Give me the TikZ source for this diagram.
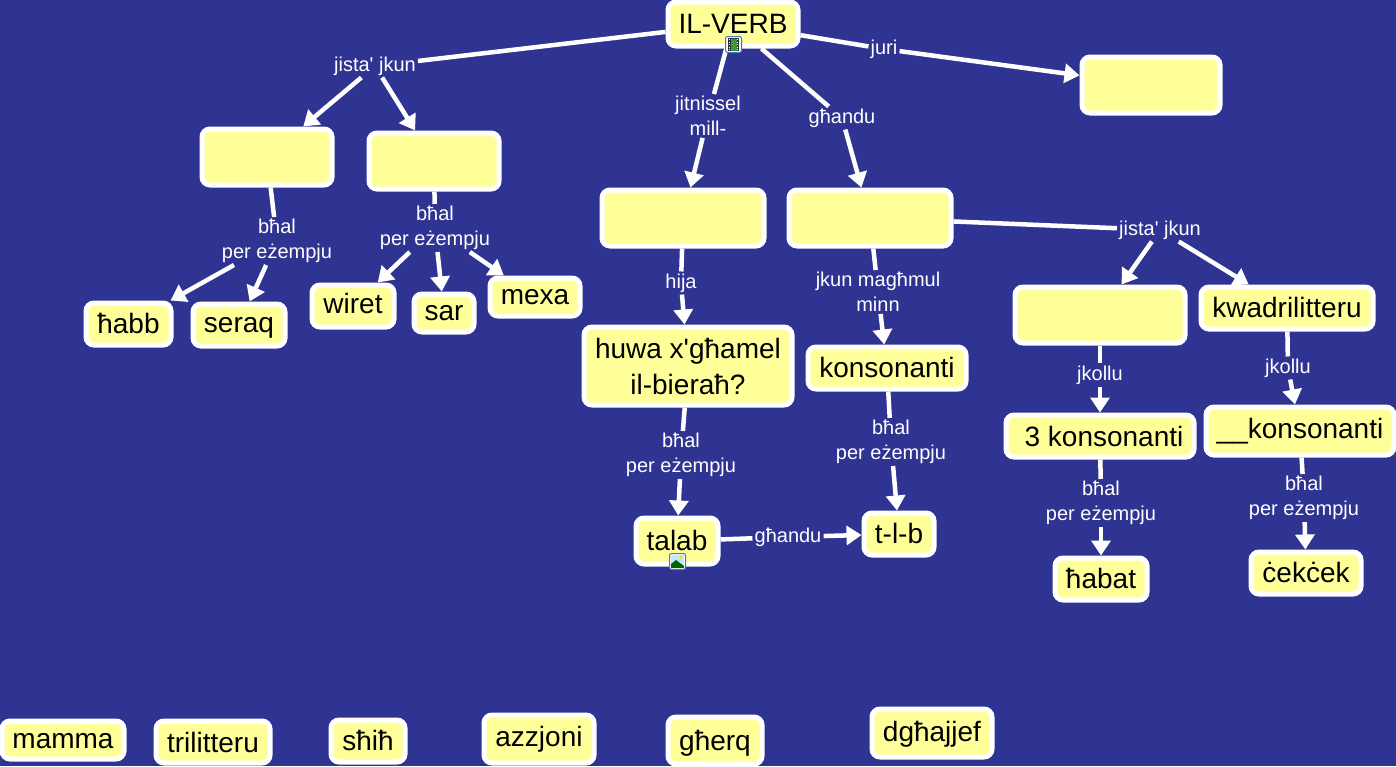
\documentclass[tikz,border=0pt]{standalone}
\usepackage{fontspec}
\setmainfont{Liberation Sans}[Ligatures=TeXOff]
\definecolor{MapBlue}{RGB}{47,51,146}
\definecolor{BoxYellow}{RGB}{255,255,153}
\definecolor{IconEdge}{RGB}{60,125,190}
\usetikzlibrary{arrows.meta}

\tikzset{
  mapbox/.style={draw=white,fill=BoxYellow,line width=5pt,rounded corners=8pt,inner sep=0pt,
    align=center,text=black,text height=22pt,text depth=6pt,font=\fontsize{28}{36}\selectfont},
  linktext/.style={text=white,inner sep=2pt,align=center,font=\fontsize{20}{25}\selectfont},
  link/.style={draw=white,line width=4.5pt},
  linkto/.style={link,-{Triangle[length=15pt,width=19pt]}},
  mapicon/.style={draw=IconEdge,fill=white,line width=1pt,rounded corners=2pt,inner sep=0pt,
    minimum width=16pt,minimum height=16pt}
}

\begin{document}
\begin{tikzpicture}[x=1pt,y=-1pt]

  \useasboundingbox (0,0) rectangle (1396,766);
  \fill[MapBlue] (0,0) rectangle (1396,766);

  % boxes
  \node[mapbox,text height=24pt,minimum width=130pt,minimum height=44pt] (verb) at (733,24) {IL-VERB};
  \node[mapbox,minimum width=138pt,minimum height=56pt] (tense) at (1151,85) {};
  \node[mapbox,minimum width=130pt,minimum height=56pt] (boxa) at (267,157) {};
  \node[mapbox,minimum width=130pt,minimum height=56pt] (boxb) at (434,161) {};
  \node[mapbox,minimum width=162pt,minimum height=56pt] (boxc) at (683,218) {};
  \node[mapbox,minimum width=162pt,minimum height=56pt] (boxd) at (870,218) {};
  \node[mapbox,text height=24pt,minimum width=85pt,minimum height=42pt] (habb) at (128.5,324) {ħabb};
  \node[mapbox,text height=20pt,minimum width=92pt,minimum height=42pt] (seraq) at (239,325) {seraq};
  \node[mapbox,text height=20pt,minimum width=82pt,minimum height=42pt] (wiret) at (353,306) {wiret};
  \node[mapbox,text height=20pt,minimum width=60pt,minimum height=38pt] (sar) at (444,313) {sar};
  \node[mapbox,text height=20pt,minimum width=90pt,minimum height=38pt] (mexa) at (535,297) {mexa};
  \node[mapbox,text height=62pt,minimum width=208pt,minimum height=78pt] (huwa) at (688,366) {huwa x'għamel\\il-bieraħ?};
  \node[mapbox,text height=24pt,minimum width=158pt,minimum height=42pt] (kons) at (887,368) {konsonanti};
  \node[mapbox,minimum width=170pt,minimum height=56pt] (boxe) at (1100,315) {};
  \node[mapbox,text height=24pt,minimum width=172pt,minimum height=42pt] (kwad) at (1287,308) {kwadrilitteru};
  \node[mapbox,text height=26pt,minimum width=188pt,minimum height=42pt] (three) at (1100,436) {\hspace{8pt}3 konsonanti};
  \node[mapbox,text height=20pt,minimum width=188pt,minimum height=48pt] (blank) at (1300,431) {\_\_konsonanti};
  \node[mapbox,text height=24pt,minimum width=82pt,minimum height=46pt] (talab) at (677,541) {talab};
  \node[mapbox,text height=24pt,minimum width=70pt,minimum height=42pt] (tlb) at (899,534) {t-l-b};
  \node[mapbox,text height=24pt,minimum width=92pt,minimum height=42pt] (habat) at (1101,579) {ħabat};
  \node[mapbox,text height=24pt,minimum width=110pt,minimum height=42pt] (cekcek) at (1306,573) {ċekċek};

  % loose words at the bottom
  \node[mapbox,minimum width=122pt,minimum height=38pt] (mamma) at (63,740) {mamma};
  \node[mapbox,text height=26pt,minimum width=114pt,minimum height=42pt] (tri) at (213,742) {trilitteru};
  \node[mapbox,text height=24pt,minimum width=74pt,minimum height=42pt] (shih) at (368,741) {sħiħ};
  \node[mapbox,text height=20pt,minimum width=110pt,minimum height=48pt] (azz) at (539,739) {azzjoni};
  \node[mapbox,text height=26pt,minimum width=94pt,minimum height=47pt] (gherq) at (715,740.5) {għerq};
  \node[mapbox,minimum width=120pt,minimum height=48pt] (dgh) at (932,733) {dgħajjef};

  % linking words
  \node[linktext] (jistaa) at (375,66) {jista' jkun};
  \node[linktext] (jitn) at (708,116) {jitnissel\\mill-};
  \node[linktext] (ghana) at (842,118) {għandu};
  \node[linktext] (juri) at (884,49) {juri};
  \node[linktext] (bhala) at (277,241) {bħal\\per eżempju};
  \node[linktext] (bhalb) at (435,228) {bħal\\per eżempju};
  \node[linktext] (hija) at (681,283) {hija};
  \node[linktext] (jkun) at (878,292) {jkun magħmul\\minn};
  \node[linktext] (jistab) at (1160,230) {jista' jkun};
  \node[linktext] (bhalc) at (681,455) {bħal\\per eżempju};
  \node[linktext] (bhald) at (891,442) {bħal\\per eżempju};
  \node[linktext] (ghanb) at (788,537) {għandu};
  \node[linktext] (jkola) at (1100,375) {jkollu};
  \node[linktext] (jkolb) at (1288,368) {jkollu};
  \node[linktext] (bhale) at (1101,503) {bħal\\per eżempju};
  \node[linktext] (bhalf) at (1304,498) {bħal\\per eżempju};

  % connectors
  \draw[link] (verb) -- (jistaa);
  \draw[linkto] (jistaa) -- (boxa);
  \draw[linkto] (jistaa) -- (boxb);
  \draw[link] (verb) -- (juri);
  \draw[linkto] (juri) -- (tense);
  \draw[link] (verb) -- (jitn);
  \draw[linkto] (jitn) -- (boxc);
  \draw[link] (verb) -- (ghana);
  \draw[linkto] (ghana) -- (boxd);
  \draw[link] (boxa) -- (bhala);
  \draw[linkto] (bhala) -- (habb);
  \draw[linkto] (bhala) -- (seraq);
  \draw[link] (boxb) -- (bhalb);
  \draw[linkto] (bhalb) -- (wiret);
  \draw[linkto] (bhalb) -- (sar);
  \draw[linkto] (bhalb) -- (mexa);
  \draw[link] (boxc) -- (hija);
  \draw[linkto] (hija) -- (huwa);
  \draw[link] (huwa) -- (bhalc);
  \draw[linkto] (bhalc) -- (talab);
  \draw[link] (talab) -- (ghanb);
  \draw[linkto] (ghanb) -- (tlb);
  \draw[link] (boxd) -- (jkun);
  \draw[linkto] (jkun) -- (kons);
  \draw[link] (kons) -- (bhald);
  \draw[linkto] (bhald) -- (tlb);
  \draw[link] (boxd) -- (jistab);
  \draw[linkto] (jistab) -- (boxe);
  \draw[linkto] (jistab) -- (kwad);
  \draw[link] (boxe) -- (jkola);
  \draw[linkto] (jkola) -- (three);
  \draw[link] (kwad) -- (jkolb);
  \draw[linkto] (jkolb) -- (blank);
  \draw[link] (three) -- (bhale);
  \draw[linkto] (bhale) -- (habat);
  \draw[link] (blank) -- (bhalf);
  \draw[linkto] (bhalf) -- (cekcek);

  % attachment icons
  \node[mapicon] (film) at (733.5,44.5) {};
  \fill[black!80] (728,38) rectangle (739,51);
  \fill[green!45!black!75] (730.5,38.5) rectangle (736.5,50.5);
  \foreach \y in {39,41.5,44,46.5,49} {
    \fill[white] (728.6,\y) rectangle (729.8,\y+1);
    \fill[white] (737.2,\y) rectangle (738.4,\y+1);
  }
  \node[mapicon] (photo) at (677.5,561.5) {};
  \fill[cyan!25] (671,555) rectangle (684,568);
  \fill[green!40!black] (671,568) -- (671,564) -- (676,560) -- (684,566) -- (684,568) -- cycle;
  \fill[yellow!80!orange] (681,557.5) circle (1.8pt);

\end{tikzpicture}
\end{document}
